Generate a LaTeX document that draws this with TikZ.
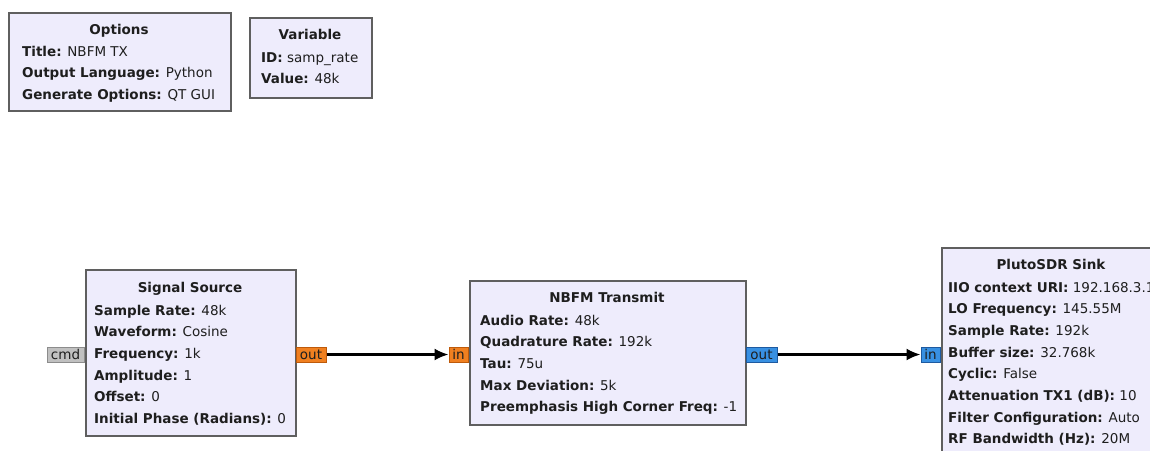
\documentclass[tikz,border=0pt]{standalone}
\usepackage{fontspec}
\setmainfont{DejaVu Sans}
\usetikzlibrary{arrows.meta}
\definecolor{blockfill}{RGB}{238,236,252}
\definecolor{blockedge}{RGB}{95,95,95}
\definecolor{floatport}{RGB}{240,128,32}
\definecolor{floatedge}{RGB}{190,90,10}
\definecolor{cplxport}{RGB}{56,144,226}
\definecolor{cplxedge}{RGB}{30,90,160}
\definecolor{msgport}{RGB}{192,192,192}
\definecolor{msgedge}{RGB}{140,140,140}
\definecolor{txt}{RGB}{30,30,30}
\newcommand\pl[2]{\hbox{\textbf{#1:} #2}}
\newcommand\plist[1]{\vtop{\baselineskip=21.7pt #1}}
\begin{document}
\begin{tikzpicture}[x=1pt,y=-1pt,
  font=\fontsize{13.5}{16}\selectfont, text=txt,
  block/.style={draw=blockedge, fill=blockfill, line width=2pt, rectangle, anchor=north west, inner sep=0},
  title/.style={anchor=base, font=\fontsize{13.5}{16}\selectfont\bfseries, inner sep=0},
  params/.style={anchor=base west, inner sep=0},
  port/.style={inner sep=0, line width=1pt, minimum height=15pt, font=\fontsize{13.5}{14}\selectfont},
  conn/.style={line width=2.2pt, -{Latex[length=14pt,width=12pt]}}]
\clip (0,0) rectangle (1150,450);
\fill[white] (0,0) rectangle (1150,450);

% Options
\node[block, minimum width=222, minimum height=98] (opt) at (8,12) {};
\node[title] (opt-t) at (119,34) {Options};
\node[params] (opt-p) at (22,56) {\plist{\pl{Title}{NBFM TX}\pl{Output Language}{Python}\pl{Generate Options}{QT GUI}}};

% Variable
\node[block, minimum width=122, minimum height=80] (var) at (249,17) {};
\node[title] (var-t) at (310,39) {Variable};
\node[params] (var-p) at (261,62) {\plist{\pl{ID}{samp\_rate}\pl{Value}{48k}}};

% Signal Source
\node[block, minimum width=210, minimum height=166] (ss) at (85,269) {};
\node[title] (ss-t) at (190,292) {Signal Source};
\node[params] (ss-p) at (94,315) {\plist{\pl{Sample Rate}{48k}\pl{Waveform}{Cosine}\pl{Frequency}{1k}\pl{Amplitude}{1}\pl{Offset}{0}\pl{Initial Phase (Radians)}{0}}};
\node[port, draw=msgedge, fill=msgport, minimum width=37, anchor=east] (ss-cmd) at (84.5,354.5) {cmd};
\node[port, draw=floatedge, fill=floatport, minimum width=30, anchor=west] (ss-out) at (295.5,354.5) {out};

% NBFM Transmit
\node[block, minimum width=276, minimum height=144] (nb) at (469,280) {};
\node[title] (nb-t) at (607,302) {NBFM Transmit};
\node[params] (nb-p) at (480,325) {\plist{\pl{Audio Rate}{48k}\pl{Quadrature Rate}{192k}\pl{Tau}{75u}\pl{Max Deviation}{5k}\pl{Preemphasis High Corner Freq}{-1}}};
\node[port, draw=floatedge, fill=floatport, minimum width=19, anchor=east] (nb-in) at (468.5,354.5) {in};
\node[port, draw=cplxedge, fill=cplxport, minimum width=31, anchor=west] (nb-out) at (745.5,354.5) {out};

% PlutoSDR Sink
\node[block, minimum width=220, minimum height=230] (pl) at (941,247) {};
\node[title] (pl-t) at (1051,269) {PlutoSDR Sink};
\node[params] (pl-p) at (948,292) {\plist{\pl{IIO context URI}{192.168.3.1}\pl{LO Frequency}{145.55M}\pl{Sample Rate}{192k}\pl{Buffer size}{32.768k}\pl{Cyclic}{False}\pl{Attenuation TX1 (dB)}{10}\pl{Filter Configuration}{Auto}\pl{RF Bandwidth (Hz)}{20M}}};
\node[port, draw=cplxedge, fill=cplxport, minimum width=19, anchor=east] (pl-in) at (940.5,354.5) {in};

% connections
\draw[conn] (ss-out.east) -- (nb-in.west);
\draw[conn] (nb-out.east) -- (pl-in.west);
\end{tikzpicture}
\end{document}
